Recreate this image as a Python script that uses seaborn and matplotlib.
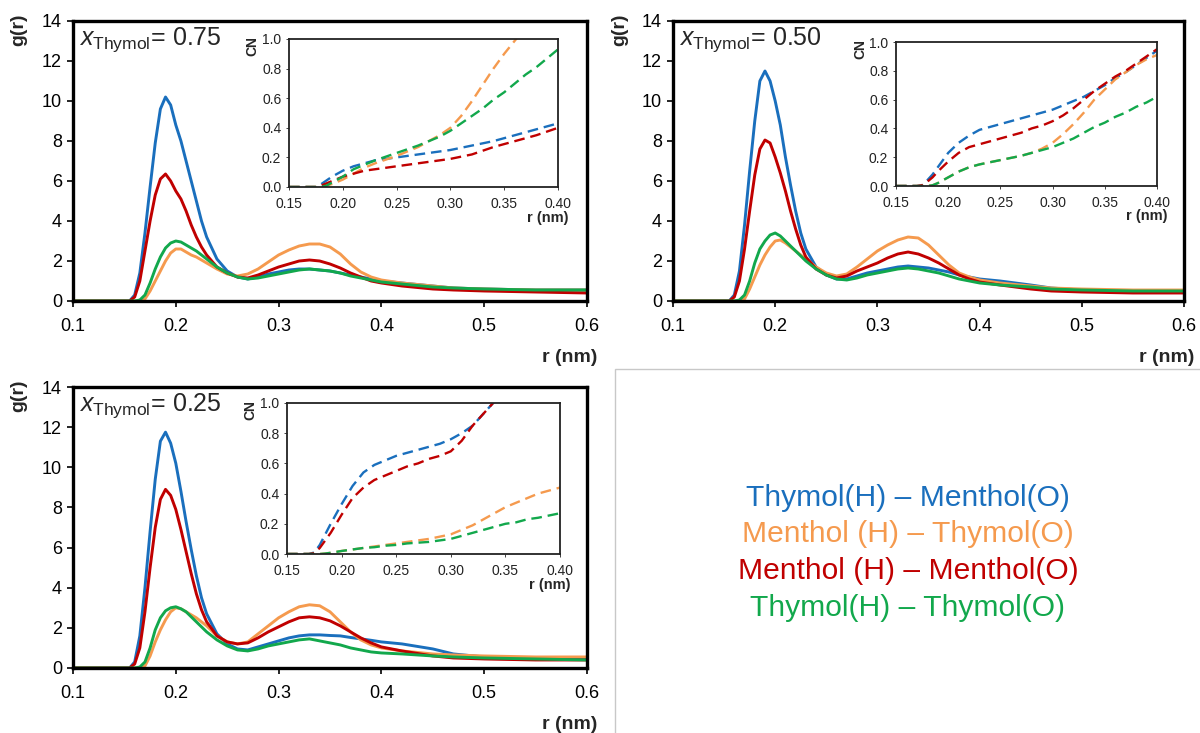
import numpy as np
import pandas as pd
import matplotlib
matplotlib.use("Agg")
import matplotlib.pyplot as plt
from matplotlib.patches import Rectangle
import seaborn as sns

# ---------------- data ----------------
PAIRS = ["Thymol(H) – Menthol(O)", "Menthol (H) – Thymol(O)",
         "Menthol (H) – Menthol(O)", "Thymol(H) – Thymol(O)"]
COLORS = ["#1a6fbd", "#f59a4e", "#c00000", "#12a84c"]
FRACTIONS = ["0.75", "0.50", "0.25"]

# radial distance grid for g(r), nm
R_GR = [0.10, 0.15, 0.155, 0.16, 0.165, 0.17, 0.175, 0.18, 0.185, 0.19, 0.195,
        0.20, 0.205, 0.21, 0.215, 0.22, 0.225, 0.23, 0.24, 0.25, 0.26, 0.27,
        0.28, 0.29, 0.30, 0.31, 0.32, 0.33, 0.34, 0.35, 0.36, 0.37, 0.38, 0.39,
        0.40, 0.42, 0.45, 0.47, 0.50, 0.55, 0.60]

# x_Thymol = 0.75
G075_TH_ME = [0, 0, 0, 0.3, 1.4, 3.4, 5.7, 7.9, 9.6, 10.2, 9.8, 8.8, 8.0, 7.0, 6.0, 5.0, 4.0, 3.2, 2.1, 1.5, 1.2, 1.1,
              1.2, 1.35, 1.45, 1.55, 1.6, 1.6, 1.55, 1.5, 1.4, 1.3, 1.2, 1.1, 1.0, 0.9, 0.75, 0.65, 0.6, 0.55, 0.55]
G075_ME_TH = [0, 0, 0, 0, 0, 0.1, 0.5, 1.0, 1.5, 2.0, 2.4, 2.6, 2.6, 2.45, 2.3, 2.2, 2.05, 1.9, 1.6, 1.35, 1.25, 1.35,
              1.6, 1.95, 2.3, 2.55, 2.75, 2.85, 2.85, 2.7, 2.35, 1.85, 1.45, 1.2, 1.05, 0.9, 0.75, 0.65, 0.6, 0.55, 0.55]
G075_ME_ME = [0, 0, 0, 0.2, 1.0, 2.5, 4.0, 5.3, 6.1, 6.35, 6.0, 5.5, 5.1, 4.5, 3.8, 3.2, 2.7, 2.3, 1.7, 1.4, 1.2, 1.15,
              1.3, 1.5, 1.7, 1.85, 2.0, 2.05, 2.0, 1.85, 1.65, 1.4, 1.2, 1.0, 0.9, 0.75, 0.6, 0.55, 0.5, 0.45, 0.4]
G075_TH_TH = [0, 0, 0, 0, 0.05, 0.3, 0.9, 1.6, 2.2, 2.65, 2.9, 3.0, 2.95, 2.8, 2.65, 2.5, 2.3, 2.1, 1.7, 1.4, 1.2, 1.1,
              1.15, 1.25, 1.35, 1.45, 1.55, 1.6, 1.55, 1.5, 1.4, 1.25, 1.15, 1.05, 0.95, 0.85, 0.7, 0.65, 0.6, 0.55, 0.55]

# x_Thymol = 0.50
G050_TH_ME = [0, 0, 0, 0.3, 1.5, 3.8, 6.5, 9.0, 11.0, 11.5, 11.0, 10.0, 8.8, 7.2, 5.8, 4.5, 3.4, 2.6, 1.7, 1.3, 1.1, 1.1,
              1.25, 1.4, 1.5, 1.6, 1.7, 1.75, 1.7, 1.65, 1.55, 1.45, 1.3, 1.2, 1.1, 1.0, 0.8, 0.65, 0.55, 0.5, 0.45]
G050_ME_TH = [0, 0, 0, 0, 0, 0.1, 0.6, 1.2, 1.8, 2.3, 2.7, 3.0, 3.05, 2.9, 2.7, 2.5, 2.3, 2.1, 1.7, 1.4, 1.25, 1.35,
              1.7, 2.1, 2.5, 2.8, 3.05, 3.2, 3.15, 2.8, 2.3, 1.8, 1.4, 1.2, 1.05, 0.9, 0.75, 0.65, 0.6, 0.55, 0.55]
G050_ME_ME = [0, 0, 0, 0.2, 1.0, 2.6, 4.5, 6.3, 7.6, 8.05, 7.9, 7.2, 6.4, 5.5, 4.5, 3.6, 2.8, 2.2, 1.6, 1.3, 1.15, 1.25,
              1.5, 1.7, 1.9, 2.15, 2.35, 2.45, 2.35, 2.15, 1.9, 1.6, 1.3, 1.1, 0.95, 0.8, 0.6, 0.5, 0.45, 0.4, 0.4]
G050_TH_TH = [0, 0, 0, 0, 0.05, 0.3, 1.0, 1.9, 2.6, 3.0, 3.3, 3.4, 3.25, 3.0, 2.75, 2.5, 2.25, 2.0, 1.6, 1.3, 1.1, 1.05,
              1.15, 1.3, 1.4, 1.5, 1.6, 1.65, 1.6, 1.5, 1.4, 1.25, 1.1, 1.0, 0.9, 0.8, 0.7, 0.6, 0.55, 0.5, 0.5]

# x_Thymol = 0.25
G025_TH_ME = [0, 0, 0, 0.3, 1.6, 4.0, 6.8, 9.4, 11.3, 11.75, 11.2, 10.2, 8.8, 7.3, 5.9, 4.6, 3.5, 2.7, 1.7, 1.2, 0.95, 0.9,
              1.05, 1.2, 1.35, 1.5, 1.6, 1.65, 1.65, 1.62, 1.6, 1.52, 1.45, 1.38, 1.3, 1.2, 0.95, 0.7, 0.55, 0.5, 0.45]
G025_ME_TH = [0, 0, 0, 0, 0, 0.1, 0.6, 1.3, 1.9, 2.4, 2.8, 3.0, 2.95, 2.8, 2.65, 2.5, 2.3, 2.1, 1.6, 1.3, 1.2, 1.3,
              1.7, 2.1, 2.5, 2.8, 3.05, 3.15, 3.1, 2.8, 2.3, 1.8, 1.4, 1.15, 1.0, 0.85, 0.7, 0.65, 0.6, 0.55, 0.55]
G025_ME_ME = [0, 0, 0, 0.2, 1.0, 2.8, 5.0, 7.0, 8.4, 8.9, 8.6, 7.9, 6.9, 5.8, 4.7, 3.7, 2.9, 2.3, 1.6, 1.3, 1.2, 1.25,
              1.5, 1.8, 2.05, 2.3, 2.5, 2.55, 2.5, 2.35, 2.1, 1.8, 1.5, 1.25, 1.05, 0.85, 0.6, 0.5, 0.45, 0.4, 0.4]
G025_TH_TH = [0, 0, 0, 0, 0.05, 0.3, 1.0, 1.9, 2.5, 2.85, 3.0, 3.05, 2.95, 2.8, 2.55, 2.3, 2.05, 1.8, 1.4, 1.1, 0.9, 0.85,
              0.95, 1.1, 1.2, 1.3, 1.4, 1.45, 1.35, 1.25, 1.15, 1.0, 0.9, 0.8, 0.75, 0.7, 0.6, 0.55, 0.5, 0.45, 0.4]

# radial distance grid for the running coordination number, nm
R_CN = [0.15, 0.16, 0.17, 0.175, 0.18, 0.185, 0.19, 0.20, 0.21, 0.22, 0.23, 0.24, 0.25, 0.26,
        0.27, 0.28, 0.29, 0.30, 0.31, 0.32, 0.33, 0.34, 0.35, 0.36, 0.37, 0.38, 0.39, 0.40]
NA = np.nan

CN075_TH_ME = [0, 0, 0, 0, 0.02, 0.045, 0.07, 0.11, 0.14, 0.16, 0.18, 0.19, 0.20, 0.21,
               0.22, 0.23, 0.24, 0.25, 0.265, 0.28, 0.295, 0.31, 0.33, 0.35, 0.37, 0.39, 0.41, 0.43]
CN075_ME_TH = [0, 0, 0, 0, 0, 0.01, 0.02, 0.05, 0.09, 0.13, 0.16, 0.185, 0.21, 0.24,
               0.27, 0.31, 0.35, 0.40, 0.48, 0.58, 0.69, 0.80, 0.90, 0.99, 1.08, NA, NA, NA]
CN075_ME_ME = [0, 0, 0, 0, 0.01, 0.025, 0.04, 0.07, 0.09, 0.11, 0.12, 0.13, 0.14, 0.15,
               0.16, 0.17, 0.18, 0.19, 0.205, 0.22, 0.245, 0.27, 0.29, 0.31, 0.33, 0.35, 0.375, 0.40]
CN075_TH_TH = [0, 0, 0, 0, 0, 0.01, 0.03, 0.07, 0.12, 0.15, 0.18, 0.205, 0.23, 0.255,
               0.28, 0.31, 0.34, 0.38, 0.43, 0.48, 0.53, 0.59, 0.64, 0.70, 0.76, 0.81, 0.87, 0.93]

CN050_TH_ME = [0, 0, 0, 0.005, 0.04, 0.08, 0.13, 0.23, 0.30, 0.35, 0.39, 0.41, 0.43, 0.45,
               0.47, 0.49, 0.51, 0.53, 0.56, 0.59, 0.62, 0.66, 0.70, 0.75, 0.79, 0.84, 0.89, 0.94]
CN050_ME_TH = [0, 0, 0, 0, 0, 0.005, 0.02, 0.06, 0.10, 0.13, 0.15, 0.165, 0.18, 0.195,
               0.21, 0.23, 0.26, 0.30, 0.36, 0.43, 0.51, 0.60, 0.67, 0.74, 0.79, 0.84, 0.88, 0.91]
CN050_ME_ME = [0, 0, 0, 0.005, 0.03, 0.06, 0.10, 0.17, 0.23, 0.27, 0.29, 0.31, 0.33, 0.35,
               0.37, 0.40, 0.42, 0.45, 0.49, 0.54, 0.60, 0.66, 0.71, 0.76, 0.80, 0.85, 0.90, 0.95]
CN050_TH_TH = [0, 0, 0, 0, 0, 0.005, 0.02, 0.06, 0.10, 0.13, 0.15, 0.165, 0.18, 0.195,
               0.21, 0.23, 0.25, 0.27, 0.30, 0.33, 0.37, 0.41, 0.44, 0.48, 0.51, 0.55, 0.58, 0.62]

CN025_TH_ME = [0, 0, 0, 0.01, 0.06, 0.13, 0.20, 0.33, 0.45, 0.54, 0.59, 0.62, 0.65, 0.67,
               0.69, 0.71, 0.73, 0.76, 0.80, 0.85, 0.93, 1.01, NA, NA, NA, NA, NA, NA]
CN025_ME_TH = [0, 0, 0, 0, 0, 0.003, 0.008, 0.02, 0.03, 0.04, 0.05, 0.06, 0.07, 0.08,
               0.09, 0.10, 0.115, 0.13, 0.16, 0.19, 0.23, 0.27, 0.31, 0.34, 0.37, 0.40, 0.42, 0.44]
CN025_ME_ME = [0, 0, 0, 0.005, 0.04, 0.09, 0.14, 0.26, 0.37, 0.44, 0.49, 0.52, 0.55, 0.58,
               0.60, 0.63, 0.65, 0.68, 0.75, 0.85, 0.93, 1.01, NA, NA, NA, NA, NA, NA]
CN025_TH_TH = [0, 0, 0, 0, 0, 0.003, 0.008, 0.02, 0.03, 0.04, 0.045, 0.055, 0.06, 0.07,
               0.075, 0.08, 0.09, 0.10, 0.12, 0.14, 0.16, 0.18, 0.20, 0.21, 0.23, 0.24, 0.255, 0.27]

GR_SETS = [[G075_TH_ME, G075_ME_TH, G075_ME_ME, G075_TH_TH],
           [G050_TH_ME, G050_ME_TH, G050_ME_ME, G050_TH_TH],
           [G025_TH_ME, G025_ME_TH, G025_ME_ME, G025_TH_TH]]
CN_SETS = [[CN075_TH_ME, CN075_ME_TH, CN075_ME_ME, CN075_TH_TH],
           [CN050_TH_ME, CN050_ME_TH, CN050_ME_ME, CN050_TH_TH],
           [CN025_TH_ME, CN025_ME_TH, CN025_ME_ME, CN025_TH_TH]]

GR_TICKS_X = [0.1, 0.2, 0.3, 0.4, 0.5, 0.6]
GR_TICKS_Y = [0, 2, 4, 6, 8, 10, 12, 14]
CN_TICKS_X = [0.15, 0.20, 0.25, 0.30, 0.35, 0.40]
CN_TICKS_Y = [0.0, 0.2, 0.4, 0.6, 0.8, 1.0]

# ---------------- style ----------------
sns.set_style("white")
plt.rcParams["font.family"] = ["Liberation Sans", "DejaVu Sans"]
plt.rcParams["mathtext.fontset"] = "custom"
plt.rcParams["mathtext.rm"] = "Liberation Sans"
plt.rcParams["mathtext.it"] = "Liberation Sans:italic"

W, H = 1200, 733
fig = plt.figure(figsize=(W / 100, H / 100), dpi=100)


def frac_box(x0, y0, x1, y1):
    """pixel box (top-left origin) -> figure-fraction rect"""
    return [x0 / W, 1 - y1 / H, (x1 - x0) / W, (y1 - y0) / H]


MAIN_BOXES = [(73, 21, 587, 301), (673, 21, 1184, 301), (73, 387, 587, 668)]
INSET_BOXES = [(289, 39, 558, 187), (896, 42, 1157, 186), (287, 403, 560, 554)]

for k in range(3):
    ax = fig.add_axes(frac_box(*MAIN_BOXES[k]))
    df = pd.DataFrame({
        "r": np.tile(R_GR, 4),
        "g": np.concatenate(GR_SETS[k]),
        "pair": np.repeat(PAIRS, len(R_GR)),
    })
    sns.lineplot(data=df, x="r", y="g", hue="pair", hue_order=PAIRS,
                 palette=COLORS, linewidth=2.1, legend=False, ax=ax,
                 errorbar=None, sort=True)
    ax.set_xlim(0.1, 0.6)
    ax.set_ylim(0, 14)
    ax.set_xticks(GR_TICKS_X)
    ax.set_xticklabels([f"{v:.1f}" for v in GR_TICKS_X])
    ax.set_yticks(GR_TICKS_Y)
    ax.tick_params(axis="both", direction="out", length=4, width=1.2,
                   labelsize=13, left=True, bottom=True, pad=4, colors="black")
    ax.tick_params(axis="x", pad=8)
    for s in ax.spines.values():
        s.set_linewidth(2.4)
        s.set_color("black")
    ax.set_xlabel("")
    ax.set_ylabel("")
    # axis titles
    ax.text(-0.105, 1.025, "g(r)", transform=ax.transAxes, rotation=90,
            ha="center", va="top", fontsize=14, fontweight="bold")
    ax.text(1.02, -0.17, "r (nm)", transform=ax.transAxes,
            ha="right", va="top", fontsize=14, fontweight="bold")
    ax.text(0.012, 0.985, r"$\mathit{x}_{\mathrm{Thymol}}$= " + FRACTIONS[k],
            transform=ax.transAxes, ha="left", va="top", fontsize=18)

    # running coordination number inset
    ins = fig.add_axes(frac_box(*INSET_BOXES[k]))
    dfc = pd.DataFrame({
        "r": np.tile(R_CN, 4),
        "cn": np.concatenate(CN_SETS[k]),
        "pair": np.repeat(PAIRS, len(R_CN)),
    })
    for name, col in zip(PAIRS, COLORS):
        sub = dfc[dfc["pair"] == name].dropna()
        sns.lineplot(data=sub, x="r", y="cn", color=col, linewidth=1.7,
                     linestyle=(0, (4.5, 2.5)), ax=ins, errorbar=None)
    ins.set_xlim(0.15, 0.40)
    ins.set_ylim(0, 1.0)
    ins.set_xticks(CN_TICKS_X)
    ins.set_xticklabels([f"{v:.2f}" for v in CN_TICKS_X])
    ins.set_yticks(CN_TICKS_Y)
    ins.set_yticklabels([f"{v:.1f}" for v in CN_TICKS_Y])
    ins.tick_params(axis="both", direction="out", length=2.5, width=0.6,
                    labelsize=10, left=True, bottom=True, pad=3,
                    colors="#222222")
    ins.tick_params(axis="x", pad=5)
    for s in ins.spines.values():
        s.set_linewidth(1.3)
        s.set_color("#222222")
    ins.set_xlabel("")
    ins.set_ylabel("")
    ins.text(-0.135, 1.02, "CN", transform=ins.transAxes, rotation=90,
             ha="center", va="top", fontsize=10, fontweight="bold")
    ins.text(1.04, -0.16, "r (nm)", transform=ins.transAxes,
             ha="right", va="top", fontsize=10.5, fontweight="bold")

# legend panel
fig.add_artist(Rectangle((615 / W, -0.05), 0.6, 1.05 - 369 / H, transform=fig.transFigure,
                         fill=False, edgecolor="#c8c8c8", linewidth=1.0))
LEGEND_Y = [498, 534, 571, 608]
for name, col, yp in zip(PAIRS, COLORS, LEGEND_Y):
    fig.text(908 / W, 1 - yp / H, name, color=col, fontsize=21.6,
             ha="center", va="center")

fig.savefig("out.png", dpi=100)
